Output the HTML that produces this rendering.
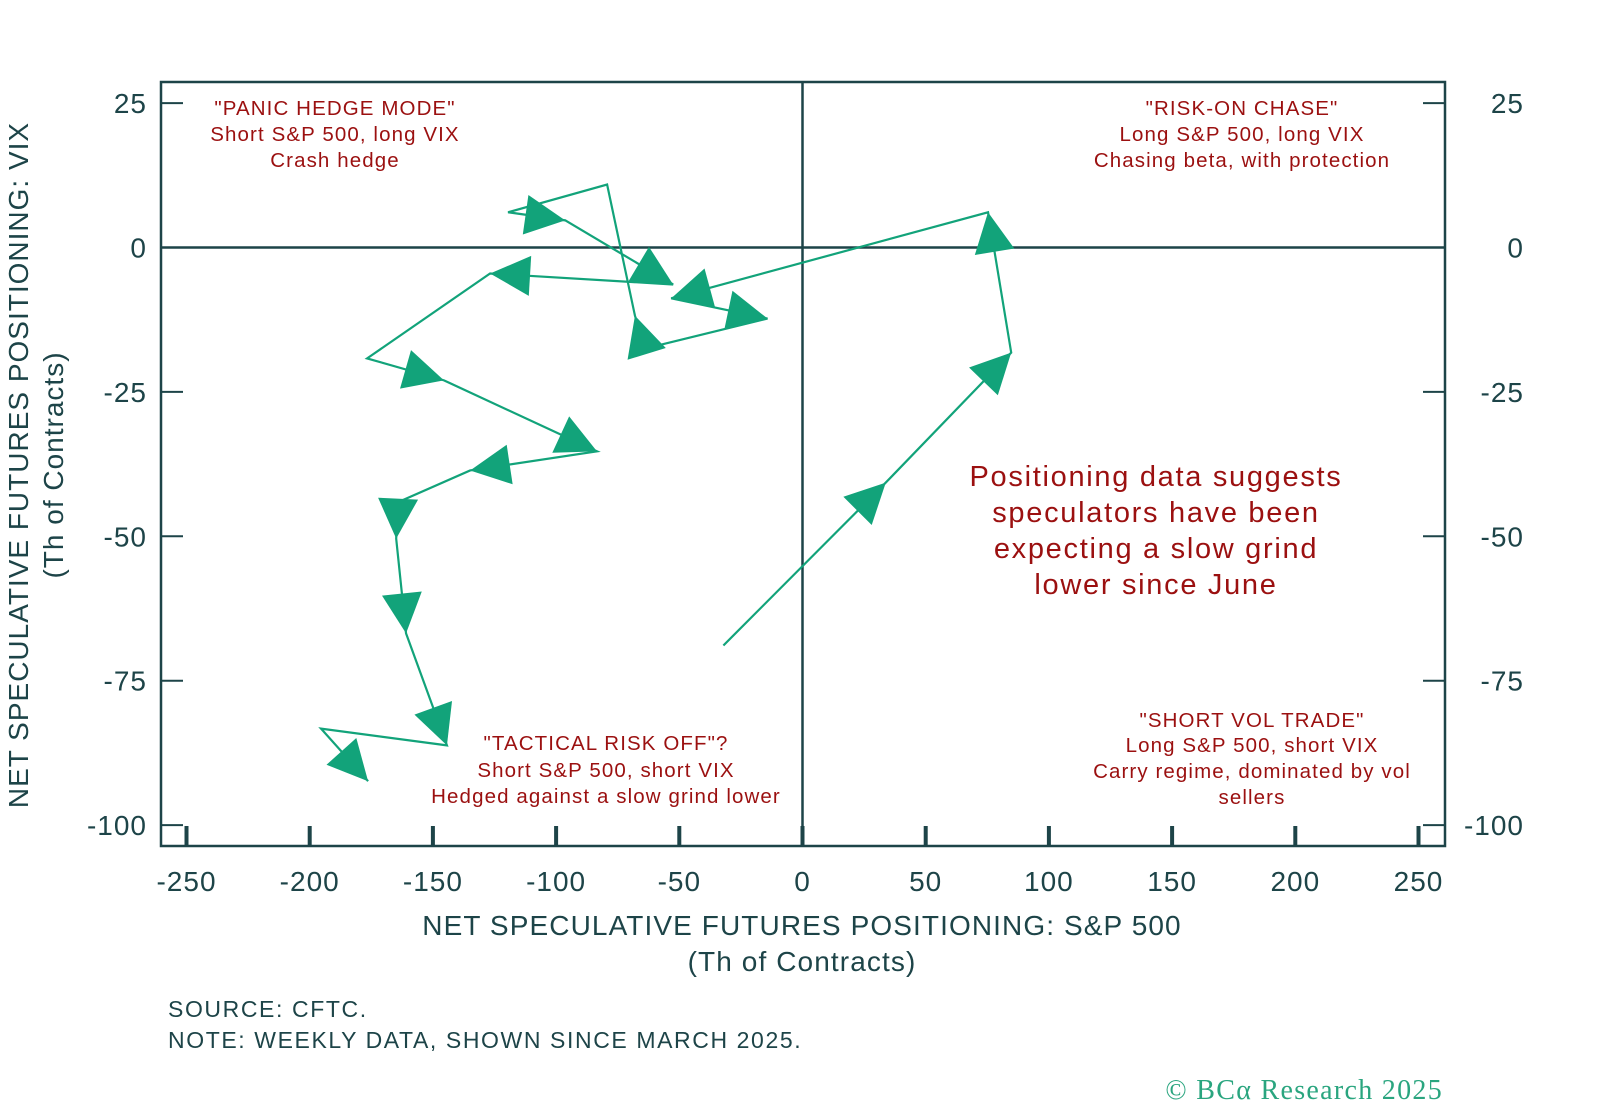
<!DOCTYPE html>
<html><head><meta charset="utf-8"><style>
html,body{margin:0;padding:0;background:#fff;}
svg{display:block;font-family:"Liberation Sans",sans-serif;}
</style></head><body>
<svg id="chart" width="1600" height="1107" viewBox="0 0 1600 1107" xmlns="http://www.w3.org/2000/svg">
<g id="axes"></g>
<g id="series"></g>
<g fill="#9b1010" font-size="20.5" letter-spacing="1.1" text-anchor="middle">
<text x="335" y="115">"PANIC HEDGE MODE"</text>
<text x="335" y="141">Short S&amp;P 500, long VIX</text>
<text x="335" y="167">Crash hedge</text>
<text x="1242" y="115">"RISK-ON CHASE"</text>
<text x="1242" y="141">Long S&amp;P 500, long VIX</text>
<text x="1242" y="167">Chasing beta, with protection</text>
<text x="606" y="750">"TACTICAL RISK OFF"?</text>
<text x="606" y="777">Short S&amp;P 500, short VIX</text>
<text x="606" y="803">Hedged against a slow grind lower</text>
<text x="1252" y="727">"SHORT VOL TRADE"</text>
<text x="1252" y="752">Long S&amp;P 500, short VIX</text>
<text x="1252" y="778">Carry regime, dominated by vol</text>
<text x="1252" y="804">sellers</text>
<g font-size="29" letter-spacing="1.7">
<text x="1156" y="486">Positioning data suggests</text>
<text x="1156" y="522">speculators have been</text>
<text x="1156" y="558">expecting a slow grind</text>
<text x="1156" y="594">lower since June</text>
</g>
</g>
<g fill="#1d4448">
<text x="802" y="935" font-size="28" letter-spacing="1.1" text-anchor="middle">NET SPECULATIVE FUTURES POSITIONING: S&amp;P 500</text>
<text x="802" y="971" font-size="28" letter-spacing="1.1" text-anchor="middle">(Th of Contracts)</text>
<text transform="translate(28,465) rotate(-90)" font-size="28" letter-spacing="1" text-anchor="middle">NET SPECULATIVE FUTURES POSITIONING: VIX</text>
<text transform="translate(63,465) rotate(-90)" font-size="28" letter-spacing="1" text-anchor="middle">(Th of Contracts)</text>
<text x="168" y="1017" font-size="23" letter-spacing="1.6">SOURCE: CFTC.</text>
<text x="168" y="1048" font-size="23" letter-spacing="1.6">NOTE: WEEKLY DATA, SHOWN SINCE MARCH 2025.</text>
</g>
<text x="1443" y="1099" font-family="Liberation Serif, serif" font-size="28" letter-spacing="1.3" fill="#2aa57f" text-anchor="end">© BCα Research 2025</text>
</svg>
<script>
const xTicks = [-250,-200,-150,-100,-50,0,50,100,150,200,250];
const yTicks = [25,0,-25,-50,-75,-100];
const spxValues = [-32.1,33.8,84.7,75.3,-53.3,-14.2,-63.9,-68.0,-79.3,-119.5,-96.3,-52.5,-126.8,-176.7,-145.5,-83.4,-134.9,-164.2,-164.9,-160.9,-144.3,-195.4,-176.3];
const vixValues = [-68.9,-40.7,-18.2,6.1,-8.8,-12.3,-17.5,-11.8,10.9,6.1,4.7,-6.4,-4.5,-19.2,-23.0,-35.3,-38.6,-44.1,-50.4,-66.8,-86.2,-83.3,-92.4];
const arrowFlags = [0,1,1,1,1,1,0,1,0,0,1,1,1,0,1,1,1,0,1,1,1,0,1];

const NS='http://www.w3.org/2000/svg';
const L=161,R=1445,T=82,B=846;
function xs(v){return 802.5+v*2.464;}
function ys(v){return 247.5-v*5.776;}
function mk(tag,attrs,parent){const e=document.createElementNS(NS,tag);for(const k in attrs)e.setAttribute(k,attrs[k]);parent.appendChild(e);return e;}
const ax=document.getElementById('axes');
const ink='#1d4448';
let e;
e=mk('rect',{x:L,y:T,width:R-L,height:B-T,fill:'none',stroke:ink,'stroke-width':2.5},ax);


e=mk('line',{x1:L,x2:R,y1:ys(0),y2:ys(0),stroke:ink,'stroke-width':2.5},ax);


e=mk('line',{x1:xs(0),x2:xs(0),y1:T,y2:B,stroke:ink,'stroke-width':2.5},ax);


xTicks.forEach(v=>{
  const x=xs(v);
  e=mk('line',{x1:x,x2:x,y1:B,y2:B-20,stroke:ink,'stroke-width':4},ax);
  
  
  e=mk('text',{x:x,y:B+45,'font-size':28,'letter-spacing':1,fill:ink,'text-anchor':'middle'},ax);
  e.textContent=String(v);
  
  
});
yTicks.forEach(v=>{
  const y=ys(v);
  e=mk('line',{x1:L,x2:L+22,y1:y,y2:y,stroke:ink,'stroke-width':2},ax);
  
  
  e=mk('text',{x:147,y:y+10,'font-size':28,'letter-spacing':1,fill:ink,'text-anchor':'end'},ax);
  e.textContent=String(v);
  
  
  e=mk('line',{x1:R-22,x2:R,y1:y,y2:y,stroke:ink,'stroke-width':2},ax);
  
  
  e=mk('text',{x:1524,y:y+10,'font-size':28,'letter-spacing':1,fill:ink,'text-anchor':'end'},ax);
  e.textContent=String(v);
  
  
});
const sg=document.getElementById('series');
const green='#12a37a';
const pts=spxValues.map((v,i)=>[xs(v),ys(vixValues[i])]);
e=mk('polyline',{points:pts.map(p=>p.join(',')).join(' '),fill:'none',stroke:green,'stroke-width':2.2,'stroke-linejoin':'miter'},sg);


for(let i=1;i<pts.length;i++){
  if(!arrowFlags[i])continue;
  const [x1,y1]=pts[i-1],[x2,y2]=pts[i];
  const a=Math.atan2(y2-y1,x2-x1);
  const len=40,hw=20;
  const bx=x2-len*Math.cos(a),by=y2-len*Math.sin(a);
  const px=-Math.sin(a)*hw,py=Math.cos(a)*hw;
  e=mk('polygon',{points:`${x2},${y2} ${bx+px},${by+py} ${bx-px},${by-py}`,fill:green},sg);
  
  
}
</script>
</body></html>
